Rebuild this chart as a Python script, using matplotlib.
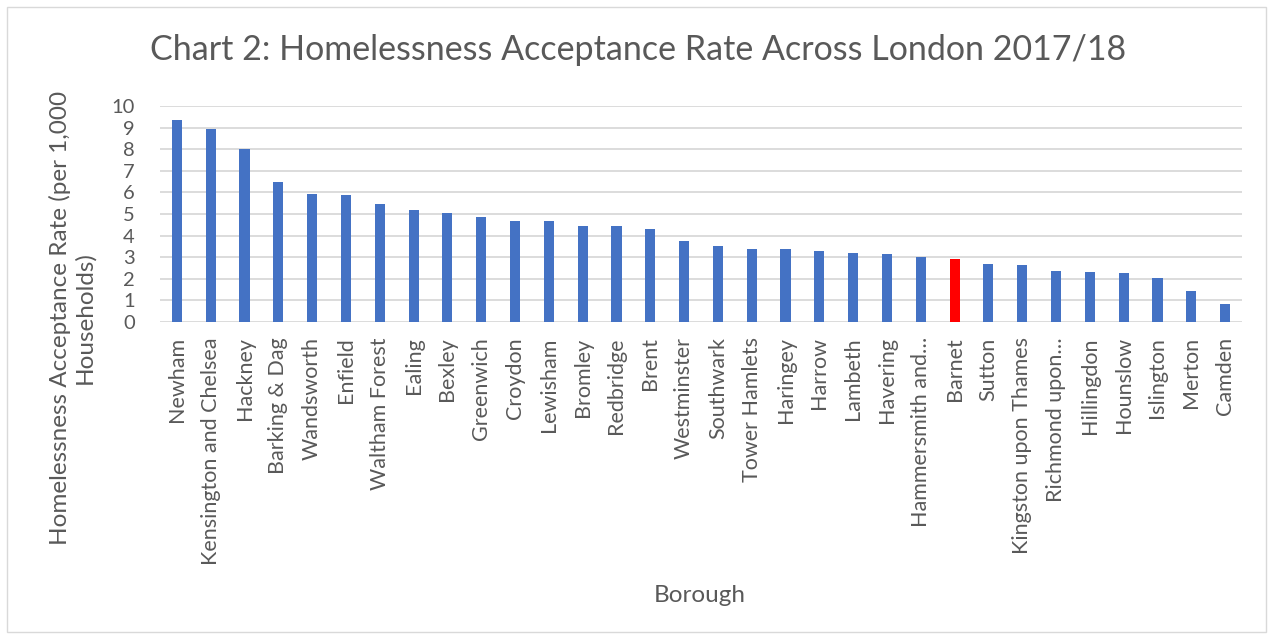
import matplotlib
matplotlib.use("Agg")
import matplotlib.pyplot as plt
from matplotlib.patches import Rectangle

boroughs = ["Newham", "Kensington and Chelsea", "Hackney", "Barking & Dag", "Wandsworth",
            "Enfield", "Waltham Forest", "Ealing", "Bexley", "Greenwich", "Croydon",
            "Lewisham", "Bromley", "Redbridge", "Brent", "Westminster", "Southwark",
            "Tower Hamlets", "Haringey", "Harrow", "Lambeth", "Havering",
            "Hammersmith and…", "Barnet", "Sutton", "Kingston upon Thames",
            "Richmond upon…", "Hillingdon", "Hounslow", "Islington", "Merton", "Camden"]
rates = [9.35, 8.93, 8.03, 6.50, 5.91, 5.87, 5.45, 5.20, 5.03, 4.85, 4.69, 4.66, 4.46,
         4.43, 4.32, 3.73, 3.53, 3.39, 3.36, 3.31, 3.20, 3.17, 2.99, 2.91, 2.68, 2.65,
         2.38, 2.31, 2.28, 2.04, 1.44, 0.82]
highlight = "Barnet"
yticks = list(range(0, 11))

font = ["Lato", "DejaVu Sans"]
txt = "#595959"
blue = "#4472C4"
red = "#FF0000"

fig = plt.figure(figsize=(12.73, 6.39), dpi=100)
fig.patches.append(Rectangle((7/1273, 7/639), 1259/1273, 625/639, transform=fig.transFigure,
                             fill=False, edgecolor="#d9d9d9", linewidth=1))
ax = fig.add_axes([160/1273, 1 - 322/639, 1082/1273, 216/639])

colors = [red if b == highlight else blue for b in boroughs]
x = list(range(len(boroughs)))
ax.bar(x, rates, width=0.3, color=colors, zorder=3)
ax.set_xlim(-0.5, len(boroughs) - 0.5)
ax.set_ylim(0, 10)
ax.set_yticks(yticks)
ax.set_yticklabels([str(t) for t in yticks], family=font, fontsize=14.5, color=txt)
ax.set_xticks(x)
ax.set_xticklabels(boroughs, rotation=90, family=font, fontsize=15.5, color=txt)
ax.tick_params(axis="x", length=0, pad=11)
ax.tick_params(axis="y", length=0, pad=18)
ax.grid(axis="y", color="#d9d9d9", linewidth=1.3, zorder=0)
for s in ax.spines.values():
    s.set_visible(False)

fig.text(638/1273, 1 - 50/639, "Chart 2: Homelessness Acceptance Rate Across London 2017/18",
         ha="center", va="center", family=font, fontsize=24.5, color=txt)
fig.text(700/1273, 1 - 595/639, "Borough", ha="center", va="center",
         family=font, fontsize=17.5, color=txt)
fig.text(72/1273, 1 - 318/639, "Homelessness Acceptance Rate (per 1,000\nHouseholds)",
         ha="center", va="center", rotation=90, family=font, fontsize=17.5, color=txt,
         multialignment="center", linespacing=1.15)

fig.savefig("out.png", dpi=100)
